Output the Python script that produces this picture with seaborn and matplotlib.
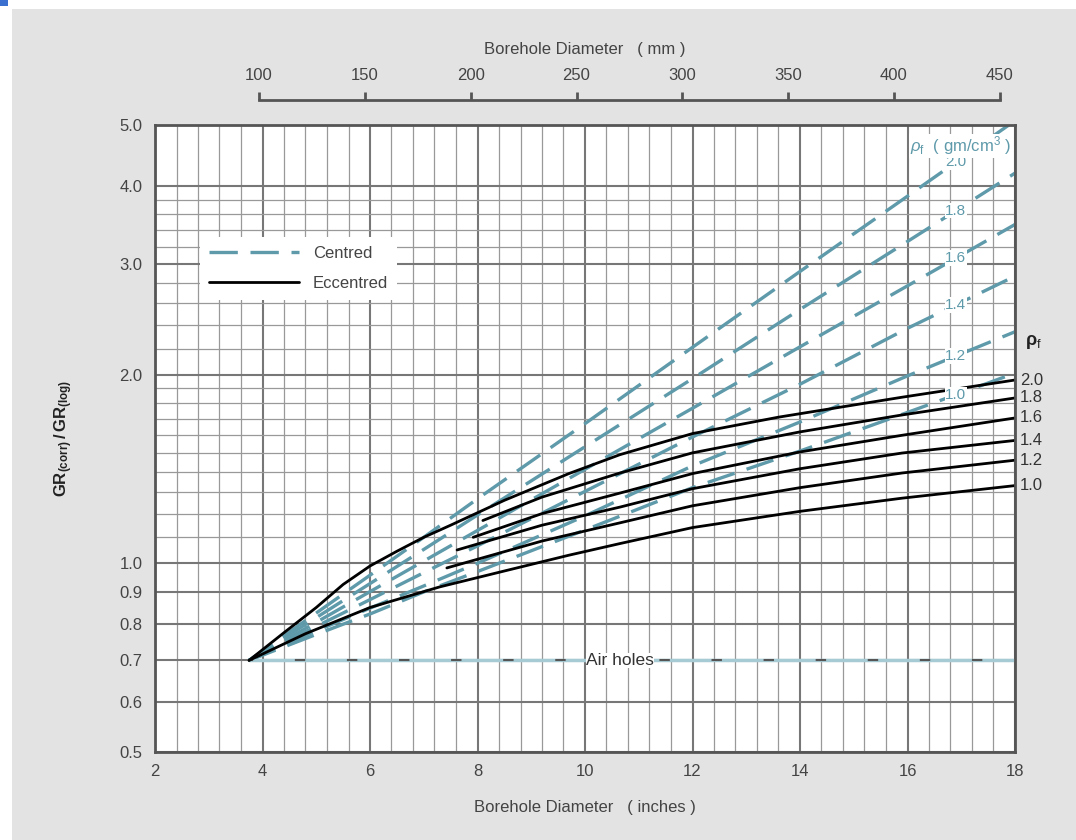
import numpy as np
import matplotlib
matplotlib.use("Agg")
import matplotlib.pyplot as plt
import matplotlib.transforms as mtransforms
from matplotlib.patches import Rectangle
from matplotlib.ticker import NullFormatter
import seaborn as sns

# ==========================================
# DATA
# ==========================================

# centred curves, borehole diameter in inches
x_centred = [3.75, 5, 6, 7, 8, 10, 12, 14, 16, 18]
centred_20 = [0.70, 0.833, 0.957, 1.10, 1.267, 1.67, 2.21, 2.92, 3.85, 5.08]
centred_18 = [0.70, 0.819, 0.928, 1.052, 1.194, 1.534, 1.97, 2.54, 3.26, 4.19]
centred_16 = [0.70, 0.805, 0.901, 1.008, 1.128, 1.412, 1.767, 2.214, 2.77, 3.47]
centred_14 = [0.70, 0.793, 0.875, 0.966, 1.066, 1.302, 1.59, 1.93, 2.37, 2.87]
centred_12 = [0.70, 0.78, 0.848, 0.92, 1.0, 1.19, 1.43, 1.68, 1.99, 2.34]
centred_10 = [0.70, 0.77, 0.83, 0.90, 0.97, 1.13, 1.32, 1.51, 1.74, 2.01]

# eccentred curves
ecc_20_x = [3.75, 4.4, 5.0, 5.5, 6.0, 6.5, 7.0, 7.5, 8.5, 9.7, 10.65, 12, 13.6, 15.9, 18]
ecc_20_y = [0.70, 0.775, 0.85, 0.925, 0.99, 1.045, 1.10, 1.15, 1.26, 1.39, 1.49, 1.61, 1.71, 1.84, 1.96]
ecc_18_x = [8.1, 9.2, 10.65, 12, 14, 15.9, 18]
ecc_18_y = [1.17, 1.275, 1.393, 1.50, 1.62, 1.724, 1.835]
ecc_16_x = [7.92, 9.2, 10.65, 12, 14, 15.9, 18]
ecc_16_y = [1.10, 1.20, 1.294, 1.39, 1.505, 1.60, 1.705]
ecc_14_x = [7.62, 9.2, 10.65, 12, 14, 15.9, 18]
ecc_14_y = [1.05, 1.15, 1.229, 1.315, 1.415, 1.499, 1.57]
ecc_12_x = [7.43, 9.2, 10.65, 12, 14, 15.9, 18]
ecc_12_y = [0.983, 1.085, 1.16, 1.235, 1.32, 1.393, 1.46]
ecc_10_x = [3.75, 4.8, 6.0, 7.3, 8.5, 9.7, 10.65, 12, 14, 15.9, 18]
ecc_10_y = [0.70, 0.772, 0.85, 0.917, 0.972, 1.03, 1.075, 1.14, 1.21, 1.27, 1.33]

# air holes line
air_x = [3.75, 18]
air_y = [0.70, 0.70]

density_labels = ["2.0", "1.8", "1.6", "1.4", "1.2", "1.0"]

x_ticks = [2, 4, 6, 8, 10, 12, 14, 16, 18]
mm_ticks = [100, 150, 200, 250, 300, 350, 400, 450]
y_ticks = [0.5, 0.6, 0.7, 0.8, 0.9, 1.0, 2.0, 3.0, 4.0, 5.0]
y_minor = [1.1, 1.2, 1.3, 1.4, 1.5, 1.6, 1.7, 1.8, 1.9,
           2.2, 2.4, 2.6, 2.8, 3.2, 3.4, 3.6, 3.8]

TEAL = "#5e9aaa"
LIGHT_TEAL = "#a6cbd4"
TEXT = "#444444"

# ==========================================
# STYLE
# ==========================================

sns.set_style("white")
plt.rcParams['font.family'] = ['Liberation Sans', 'DejaVu Sans']
plt.rcParams['mathtext.fontset'] = 'custom'
plt.rcParams['mathtext.rm'] = 'Liberation Sans'
plt.rcParams['mathtext.it'] = 'Liberation Sans:italic'
plt.rcParams['mathtext.bf'] = 'Liberation Sans:bold'

fig = plt.figure(figsize=(10.76, 8.4), dpi=100)
fig.patch.set_facecolor('white')
fig.patches.append(Rectangle((12 / 1076, 0), 1 - 12 / 1076, 1 - 9 / 840,
                             transform=fig.transFigure, facecolor='#e3e3e3',
                             edgecolor='none', zorder=-10))
fig.patches.append(Rectangle((0, 1 - 6 / 840), 8 / 1076, 6 / 840,
                             transform=fig.transFigure, facecolor='#3b6fd0',
                             edgecolor='none', zorder=-9))

ax = fig.add_axes([155 / 1076, 88 / 840, 860 / 1076, 627 / 840])
ax.set_facecolor('white')

# ==========================================
# CURVES
# ==========================================

centred = [centred_20, centred_18, centred_16, centred_14, centred_12, centred_10]
dash = (0, (8.5, 3.8))
for i, yv in enumerate(centred):
    sns.lineplot(x=x_centred, y=yv, ax=ax, color=TEAL, lw=2.4, linestyle=dash,
                 label="Centred" if i == 0 else None, errorbar=None, zorder=3)

ecc = [(ecc_20_x, ecc_20_y), (ecc_18_x, ecc_18_y), (ecc_16_x, ecc_16_y),
       (ecc_14_x, ecc_14_y), (ecc_12_x, ecc_12_y), (ecc_10_x, ecc_10_y)]
for i, (xv, yv) in enumerate(ecc):
    sns.lineplot(x=xv, y=yv, ax=ax, color='black', lw=2.0,
                 label="Eccentred" if i == 0 else None, errorbar=None, zorder=4)

sns.lineplot(x=air_x, y=air_y, ax=ax, color=LIGHT_TEAL, lw=2.5, errorbar=None, zorder=3)
sns.lineplot(x=air_x, y=air_y, ax=ax, color='#555555', lw=1.5,
             linestyle=(3, (5, 20)), errorbar=None, zorder=3)

# ==========================================
# AXES
# ==========================================

ax.set_yscale('log')
ax.set_xlim(2, 18)
ax.set_ylim(0.5, 5.0)

ax.set_xticks(x_ticks)
ax.set_xticks(np.arange(2, 18.01, 0.4), minor=True)
ax.set_yticks(y_ticks, labels=[f"{v:.1f}" for v in y_ticks])
ax.set_yticks(y_minor, minor=True)
ax.yaxis.set_minor_formatter(NullFormatter())

ax.grid(which='major', color='#777777', lw=1.5)
ax.grid(which='minor', color='#999999', lw=0.9)
ax.set_axisbelow(True)
ax.tick_params(which='both', length=0, labelsize=12, labelcolor=TEXT, pad=9)

for s in ax.spines.values():
    s.set_color('#555555')
    s.set_linewidth(2)
    s.set_zorder(6)

ax.set_xlabel("Borehole Diameter   ( inches )", fontsize=12, color=TEXT)
ax.xaxis.set_label_coords(0.5, -0.077)
ax.set_ylabel(r"$\mathbf{GR_{(corr)}\,/\,GR_{(log)}}$", fontsize=12, color='#222222')
ax.yaxis.set_label_coords(-0.093, 0.5)

# top mm axis
ax2 = ax.twiny()
ax2.set_xlim(2 * 25.4, 18 * 25.4)
ax2.set_xticks(mm_ticks)
for side in ['bottom', 'left', 'right']:
    ax2.spines[side].set_visible(False)
ax2.spines['top'].set_position(('outward', 18))
ax2.spines['top'].set_bounds(100, 450)
ax2.spines['top'].set_color('#555555')
ax2.spines['top'].set_linewidth(2)
ax2.tick_params(axis='x', direction='out', length=6, width=2, color='#555555',
                labelsize=12, labelcolor=TEXT, pad=6)
ax2.set_xlabel("Borehole Diameter   ( mm )", fontsize=12, color=TEXT, labelpad=10)
ax2.grid(False)

# ==========================================
# LEGEND + LABELS
# ==========================================

leg = ax.legend(loc='upper left', bbox_to_anchor=(0.043, 0.835), frameon=True,
                fancybox=False, framealpha=1, edgecolor='none', facecolor='white',
                fontsize=12, handlelength=5.4, labelspacing=0.9, borderpad=0.55)
for t in leg.get_texts():
    t.set_color(TEXT)
leg.set_zorder(7)

box = dict(facecolor='white', edgecolor='none', pad=0.5)
for yv, lab in zip(centred, density_labels):
    yl = np.exp(np.interp(16.9, x_centred, np.log(yv)))
    ax.text(16.9, yl, lab, color=TEAL, fontsize=11, ha='center', va='center',
            bbox=box, zorder=5)
ax.text(0.995, 0.985, r"$\rho_{\mathrm{f}}$  ( gm/cm$^{3}$ )", transform=ax.transAxes,
        color=TEAL, fontsize=12, ha='right', va='top', bbox=box, zorder=5)

ax.text(10.65, 0.70, "Air holes", color='#333333', fontsize=12.5, ha='center',
        va='center', bbox=dict(facecolor='white', edgecolor='none', pad=0.3), zorder=5)

trans = mtransforms.blended_transform_factory(ax.transAxes, ax.transData)
for (xv, yv), lab in zip(ecc, density_labels):
    ax.text(1.006, yv[-1], lab, transform=trans, color='#333333', fontsize=12,
            ha='left', va='center', clip_on=False)
ax.text(1.012, 2.25, r"$\mathbf{\rho}_{\mathrm{f}}$", transform=trans, color='#222222',
        fontsize=13, fontweight='bold', ha='left', va='center', clip_on=False)

plt.savefig("out.png", dpi=100, facecolor=fig.get_facecolor())
